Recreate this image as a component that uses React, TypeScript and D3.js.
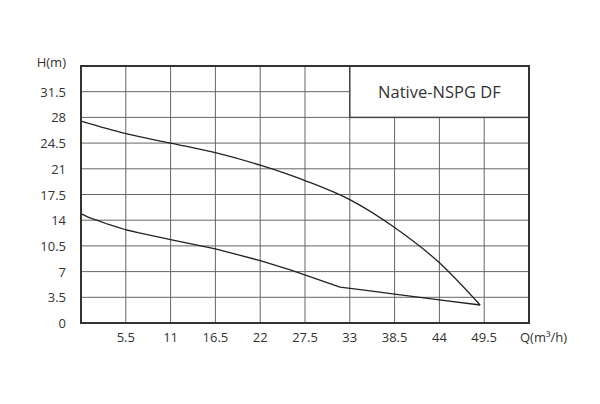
import React from "react";
import * as d3 from "d3";

const xTicks = [5.5, 11, 16.5, 22, 27.5, 33, 38.5, 44, 49.5];
const yTicks = [0, 3.5, 7, 10.5, 14, 17.5, 21, 24.5, 28, 31.5];
const upperQ = [0, 5.5, 11, 16.5, 22, 27.5, 33, 38.5, 44, 49.0];
const upperH = [27.5, 25.8, 24.5, 23.2, 21.5, 19.4, 16.8, 13.0, 8.2, 2.45];
const lowerQ = [0, 1, 2.1, 3.3, 4.55, 5.5, 7, 11, 16.5, 22, 25.7, 31.8, 35.5, 38.5, 44, 49.0];
const lowerH = [14.9, 14.35, 13.95, 13.45, 13.03, 12.7, 12.3, 11.35, 10.1, 8.5, 7.25, 4.9, 4.37, 3.92, 3.14, 2.45];
const title = "Native-NSPG DF";

const W = 600, H = 404;
const left = 81, right = 529, top = 66, bottom = 323;
const FONT = "'Open Sans', 'Noto Sans', sans-serif";

export default function App() {
  const x = d3.scaleLinear().domain([0, 55]).range([left, right]);
  const y = d3.scaleLinear().domain([0, 35]).range([bottom, top]);
  const smooth = d3
    .line<[number, number]>()
    .x((d) => x(d[0]))
    .y((d) => y(d[1]))
    .curve(d3.curveMonotoneX);
  const straight = d3
    .line<[number, number]>()
    .x((d) => x(d[0]))
    .y((d) => y(d[1]))
    .curve(d3.curveLinear);
  const up = upperQ.map((q, i) => [q, upperH[i]] as [number, number]);
  const lo = lowerQ.map((q, i) => [q, lowerH[i]] as [number, number]);
  const gridColor = "#666";
  const textColor = "#333";
  return (
    <svg
      width={W}
      height={H}
      style={{ position: "absolute", left: 0, top: 0, background: "#fff" }}
    >
      <rect x={0} y={0} width={W} height={H} fill="#fff" />
      {xTicks.map((t) => (
        <line key={"gx" + t} x1={x(t)} x2={x(t)} y1={top} y2={bottom} stroke={gridColor} strokeWidth={1} />
      ))}
      {yTicks.filter((t) => t > 0).map((t) => (
        <line key={"gy" + t} x1={left} x2={right} y1={y(t)} y2={y(t)} stroke={gridColor} strokeWidth={1} />
      ))}
      <rect
        x={x(33)}
        y={top}
        width={right - x(33)}
        height={y(28) - top}
        fill="#fff"
        stroke="#444"
        strokeWidth={1.5}
      />
      <text
        x={(x(33) + right) / 2}
        y={(top + y(28)) / 2}
        textAnchor="middle"
        dominantBaseline="central"
        fontFamily={FONT}
        fontSize={16.5}
        fill={textColor}
      >
        {title}
      </text>
      <path d={smooth(up) || ""} fill="none" stroke="#222" strokeWidth={1.3} />
      <path d={straight(lo) || ""} fill="none" stroke="#222" strokeWidth={1.3} strokeLinejoin="round" />
      <path
        d={`M${left},${top}H${right}V${bottom}H${left}Z`}
        fill="none"
        stroke="#333"
        strokeWidth={2}
      />
      {yTicks.map((t) => (
        <text
          key={"yl" + t}
          x={66}
          y={y(t)}
          textAnchor="end"
          dominantBaseline="central"
          fontFamily={FONT}
          fontSize={13}
          fill={textColor}
        >
          {t}
        </text>
      ))}
      <text x={66} y={62} textAnchor="end" dominantBaseline="central" fontFamily={FONT} fontSize={13} fill={textColor}>
        H(m)
      </text>
      {xTicks.map((t) => (
        <text
          key={"xl" + t}
          x={x(t)}
          y={337}
          textAnchor="middle"
          dominantBaseline="central"
          fontFamily={FONT}
          fontSize={13}
          fill={textColor}
        >
          {t}
        </text>
      ))}
      <text x={520} y={337} textAnchor="start" dominantBaseline="central" fontFamily={FONT} fontSize={13} fill={textColor}>
        Q(m³/h)
      </text>
    </svg>
  );
}
